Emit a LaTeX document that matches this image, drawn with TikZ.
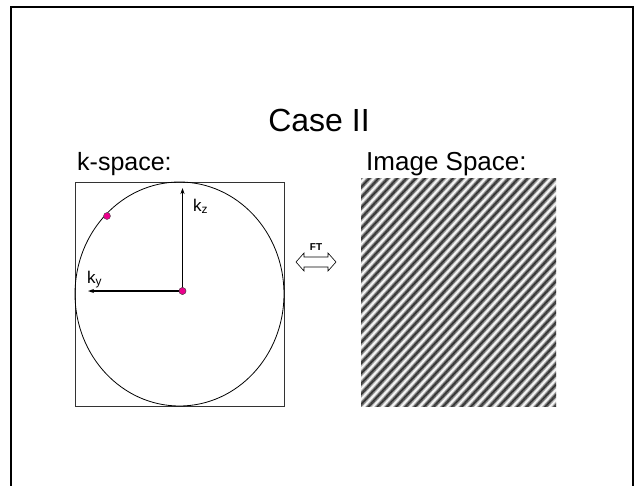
\documentclass[tikz,border=0pt]{standalone}
\usepackage{fontspec}
\setmainfont{Liberation Sans}
\usetikzlibrary{arrows.meta}
\begin{document}
\begin{tikzpicture}[x=1pt,y=-1pt,
  frameline/.style={line width=1.6pt},
  thinbox/.style={line width=0.8pt, draw=black!80},
  kvec/.style={line width=1.3pt, -{Stealth[length=6pt,width=4pt]}},
  mdot/.style={circle, fill=magenta, draw=black!70, line width=0.4pt, inner sep=0pt, minimum size=7pt},
  lbl/.style={inner sep=0pt, anchor=base west}]
\useasboundingbox (0,0) rectangle (637,485);
% slide frame
\draw[frameline] (11,486) -- (11,7) -- (633,7) -- (633,486);
% title and headings
\node[inner sep=0pt, font=\fontsize{32}{36}\selectfont] (title) at (319,120) {Case II};
\node[lbl, font=\fontsize{25}{28}\selectfont] (kspace) at (77,170) {k-space:};
\node[lbl, font=\fontsize{26}{29}\selectfont] (ispace) at (366,170) {Image Space:};
% k-space box and circle
\draw[thinbox] (75,182) rectangle (284,406);
\draw[line width=0.8pt] (179.5,294) ellipse [x radius=104.5, y radius=112];
\node[mdot] (c) at (182.5,291) {};
\node[mdot] (p) at (107,216) {};
\coordinate (kzt) at (182.5,188);
\coordinate (kyt) at (88,291);
\draw[kvec] (c.center) -- (kzt);
\draw[kvec] (c.center) -- (kyt);
\node[mdot] at (182.5,291) {};
\node[lbl, font=\fontsize{17}{20}\selectfont] (kz) at (193,211) {k\textsubscript{z}};
\node[lbl, font=\fontsize{17}{20}\selectfont] (ky) at (87,283) {k\textsubscript{y}};
% FT double arrow
\node[inner sep=0pt, font=\bfseries\fontsize{10}{12}\selectfont] (ft) at (316,247) {FT};
\draw[line width=0.6pt, fill=white] (296,262) -- (304,253) -- (304,257) -- (328,257) -- (328,253) -- (336,262) -- (328,271) -- (328,267) -- (304,267) -- (304,271) -- cycle;
% image space grating
\begin{scope}
  \clip (361,178) rectangle (556,406);
  \fill[white] (361,178) rectangle (556,406);
  \foreach \d in {-170,...,170} {
    \pgfmathsetmacro\g{58+42*cos(52*\d)}
    \draw[line width=1.15pt, color=white!\g!black]
      ({458+\d*0.743-200*0.669},{292+\d*0.669+200*0.743}) --
      ({458+\d*0.743+200*0.669},{292+\d*0.669-200*0.743});
  }
\end{scope}
\end{tikzpicture}
\end{document}
